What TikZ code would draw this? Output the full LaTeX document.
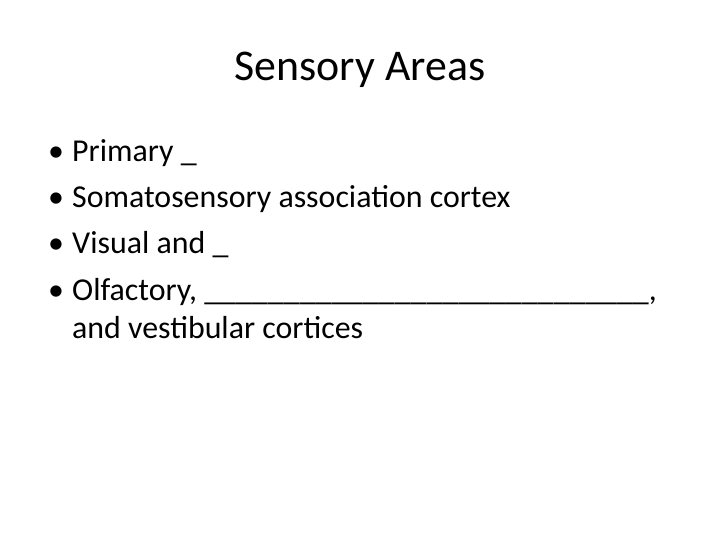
\documentclass[tikz,border=0pt]{standalone}
\usepackage{fontspec}
\setmainfont{Carlito}
\begin{document}
\begin{tikzpicture}[x=1bp,y=-1bp,
  body/.style={anchor=base west,inner sep=0pt,font=\fontsize{32}{38}\selectfont},
  bul/.style={anchor=base,inner sep=0pt,font=\fontsize{32}{38}\selectfont}]
\useasboundingbox (0,0) rectangle (720,540);
\node[anchor=base,inner sep=0pt,font=\fontsize{44}{52}\selectfont] (t) at (360,81) {Sensory Areas};
\foreach \y/\txt [count=\i] in {162/{Primary \_},208/{Somatosensory association cortex},254/{Visual and \_},300/{Olfactory, \_\_\_\_\_\_\_\_\_\_\_\_\_\_\_\_\_\_\_\_\_\_\_\_\_\_\_\_,}}{
  \node[bul] (b\i) at (56,\y) {•};
  \node[body] (l\i) at (72,\y) {\txt};
}
\node[body] (l5) at (72,338) {and vestibular cortices};
\end{tikzpicture}
\end{document}
